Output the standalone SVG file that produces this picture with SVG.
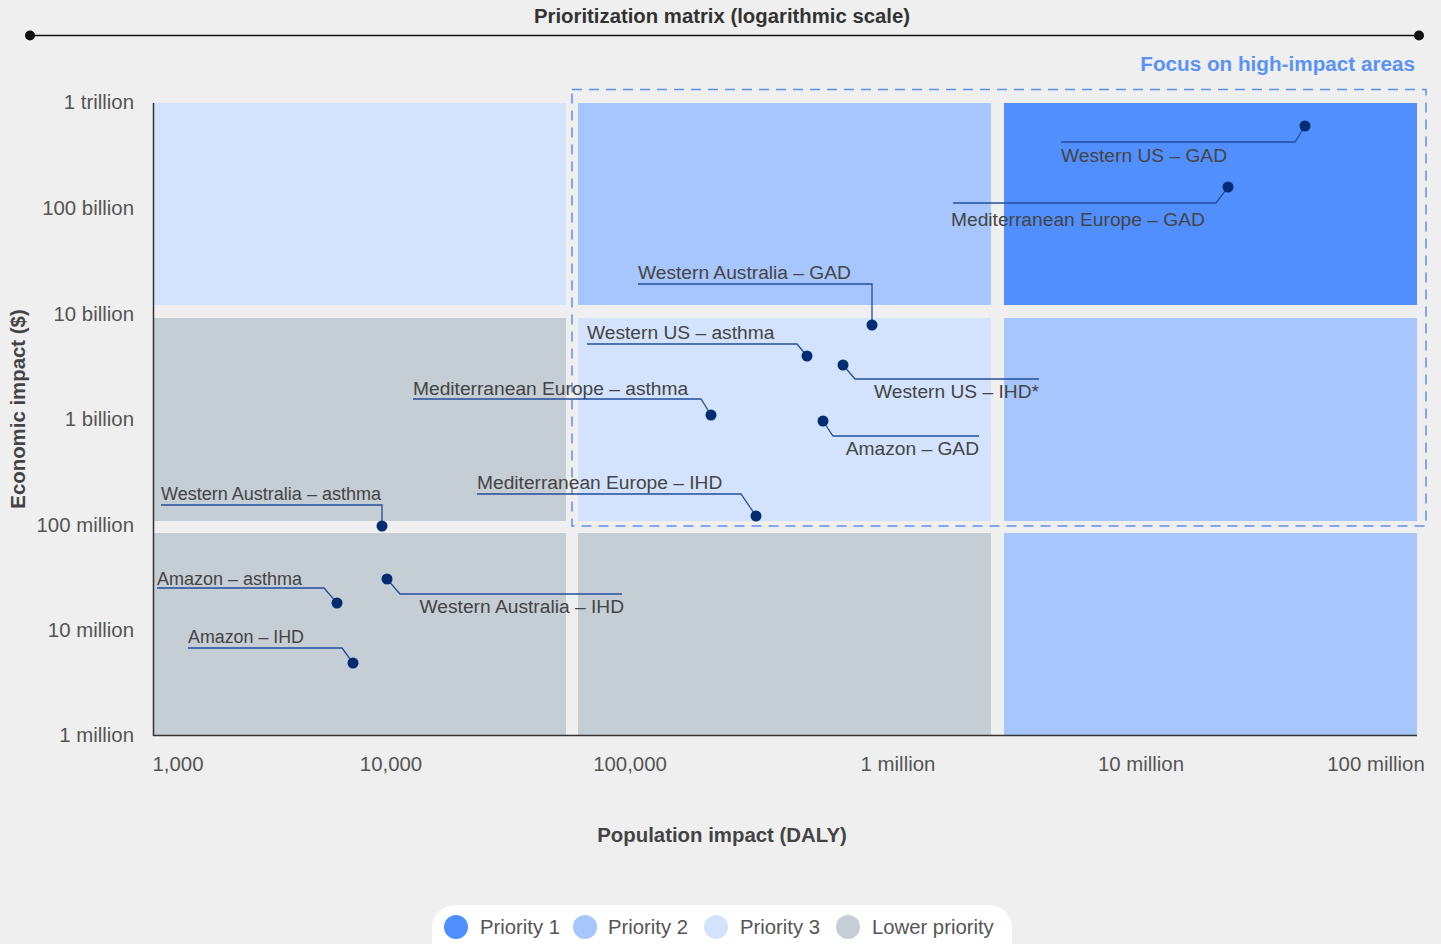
<svg xmlns="http://www.w3.org/2000/svg" width="1441" height="944" viewBox="0 0 1441 944">
<style>
text{font-family:"Liberation Sans",Arial,sans-serif}
.p1{fill:#528ffe}.p2{fill:#a7c6fe}.p3{fill:#d3e3fd}.lo{fill:#c5cdd5}
.tick{font-size:20.4px;fill:#555}
.lab{font-size:19.2px;fill:#444}
.sm{font-size:18px}
.ldr{fill:none;stroke:#234f9c;stroke-width:1.3}
.dot{fill:#002d72}
.leg{font-size:20.3px;fill:#555}
</style>
<rect width="1441" height="944" fill="#efefef"/>
<g id="title">
<text x="722" y="23" text-anchor="middle" font-size="20" font-weight="bold" fill="#333" textLength="376" lengthAdjust="spacingAndGlyphs">Prioritization matrix (logarithmic scale)</text>
<line x1="30" y1="35.5" x2="1419" y2="35.5" stroke="#111" stroke-width="1.5"/>
<circle cx="30" cy="35.5" r="5" fill="#111"/>
<circle cx="1419" cy="35.5" r="5" fill="#111"/>
</g>
<g id="cells">
<rect class="p3" x="153" y="103" width="413" height="202"/>
<rect class="p2" x="578" y="103" width="413" height="202"/>
<rect class="p1" x="1004" y="103" width="413" height="202"/>
<rect class="lo" x="153" y="318" width="413" height="203"/>
<rect class="p3" x="578" y="318" width="413" height="203"/>
<rect class="p2" x="1004" y="318" width="413" height="203"/>
<rect class="lo" x="153" y="533" width="413" height="202"/>
<rect class="lo" x="578" y="533" width="413" height="202"/>
<rect class="p2" x="1004" y="533" width="413" height="202"/>
</g>
<g id="axes">
<polyline points="153.5,103 153.5,735.5 1417,735.5" fill="none" stroke="#333" stroke-width="1.5"/>
<g class="tick" text-anchor="end">
<text x="134" y="109">1 trillion</text>
<text x="134" y="215">100 billion</text>
<text x="134" y="321">10 billion</text>
<text x="134" y="426">1 billion</text>
<text x="134" y="532">100 million</text>
<text x="134" y="637">10 million</text>
<text x="134" y="742">1 million</text>
</g>
<g class="tick" text-anchor="middle">
<text x="178" y="771">1,000</text>
<text x="391" y="771">10,000</text>
<text x="630" y="771">100,000</text>
<text x="898" y="771">1 million</text>
<text x="1141" y="771">10 million</text>
<text x="1376" y="771">100 million</text>
</g>
<text x="722" y="842" text-anchor="middle" font-size="20.4" font-weight="bold" fill="#444">Population impact (DALY)</text>
<text transform="translate(25,409) rotate(-90)" text-anchor="middle" font-size="20.4" font-weight="bold" fill="#444">Economic impact ($)</text>
</g>
<g id="focus">
<rect x="572" y="89.5" width="854" height="436.5" fill="none" stroke="#5b8ff0" stroke-width="1.5" stroke-dasharray="10,7"/>
<text x="1415" y="71" text-anchor="end" font-size="20.7" font-weight="bold" fill="#5a93f5">Focus on high-impact areas</text>
</g>
<g id="connectors">
<polyline class="ldr" points="1305,126 1295,142 1061,142"/>
<polyline class="ldr" points="1228,187 1216,203 953,203"/>
<polyline class="ldr" points="872,325 872,284 638,284"/>
<polyline class="ldr" points="807,356 797,344 587,344"/>
<polyline class="ldr" points="843,365 855,379 1039,379"/>
<polyline class="ldr" points="711,415 701,399 413,399"/>
<polyline class="ldr" points="823,421 833,436 979,436"/>
<polyline class="ldr" points="756,516 741,494 477,494"/>
<polyline class="ldr" points="382,526 382,505 161,505"/>
<polyline class="ldr" points="337,603 324,588 157,588"/>
<polyline class="ldr" points="387,579 400,594 622,594"/>
<polyline class="ldr" points="353,663 342,648 188,648"/>
</g>
<g id="n-wus-gad"><circle class="dot" cx="1305" cy="126" r="5.5"/><text class="lab" x="1061" y="162">Western US – GAD</text></g>
<g id="n-me-gad"><circle class="dot" cx="1228" cy="187" r="5.5"/><text class="lab" x="951" y="226">Mediterranean Europe – GAD</text></g>
<g id="n-wa-gad"><circle class="dot" cx="872" cy="325" r="5.5"/><text class="lab" x="638" y="279">Western Australia – GAD</text></g>
<g id="n-wus-asthma"><circle class="dot" cx="807" cy="356" r="5.5"/><text class="lab" x="587" y="339">Western US – asthma</text></g>
<g id="n-wus-ihd"><circle class="dot" cx="843" cy="365" r="5.5"/><text class="lab" x="1039" y="398" text-anchor="end">Western US – IHD*</text></g>
<g id="n-me-asthma"><circle class="dot" cx="711" cy="415" r="5.5"/><text class="lab" x="413" y="395">Mediterranean Europe – asthma</text></g>
<g id="n-am-gad"><circle class="dot" cx="823" cy="421" r="5.5"/><text class="lab" x="979" y="455" text-anchor="end">Amazon – GAD</text></g>
<g id="n-me-ihd"><circle class="dot" cx="756" cy="516" r="5.5"/><text class="lab" x="477" y="489">Mediterranean Europe – IHD</text></g>
<g id="n-wa-asthma"><circle class="dot" cx="382" cy="526" r="5.5"/><text class="lab sm" x="161" y="500" textLength="220" lengthAdjust="spacingAndGlyphs">Western Australia – asthma</text></g>
<g id="n-am-asthma"><circle class="dot" cx="337" cy="603" r="5.5"/><text class="lab sm" x="157" y="585" textLength="145" lengthAdjust="spacingAndGlyphs">Amazon – asthma</text></g>
<g id="n-wa-ihd"><circle class="dot" cx="387" cy="579" r="5.5"/><text class="lab" x="624" y="613" text-anchor="end">Western Australia – IHD</text></g>
<g id="n-am-ihd"><circle class="dot" cx="353" cy="663" r="5.5"/><text class="lab sm" x="188" y="643" textLength="116" lengthAdjust="spacingAndGlyphs">Amazon – IHD</text></g>
<g id="legend">
<rect x="432" y="905" width="580" height="60" rx="23" fill="#fff"/>
<circle class="p1" cx="456" cy="927" r="12"/><text class="leg" x="480" y="934">Priority 1</text>
<circle class="p2" cx="585" cy="927" r="12"/><text class="leg" x="608" y="934">Priority 2</text>
<circle class="p3" cx="716" cy="927" r="12"/><text class="leg" x="740" y="934">Priority 3</text>
<circle class="lo" cx="848" cy="927" r="12"/><text class="leg" x="872" y="934">Lower priority</text>
</g>
</svg>
